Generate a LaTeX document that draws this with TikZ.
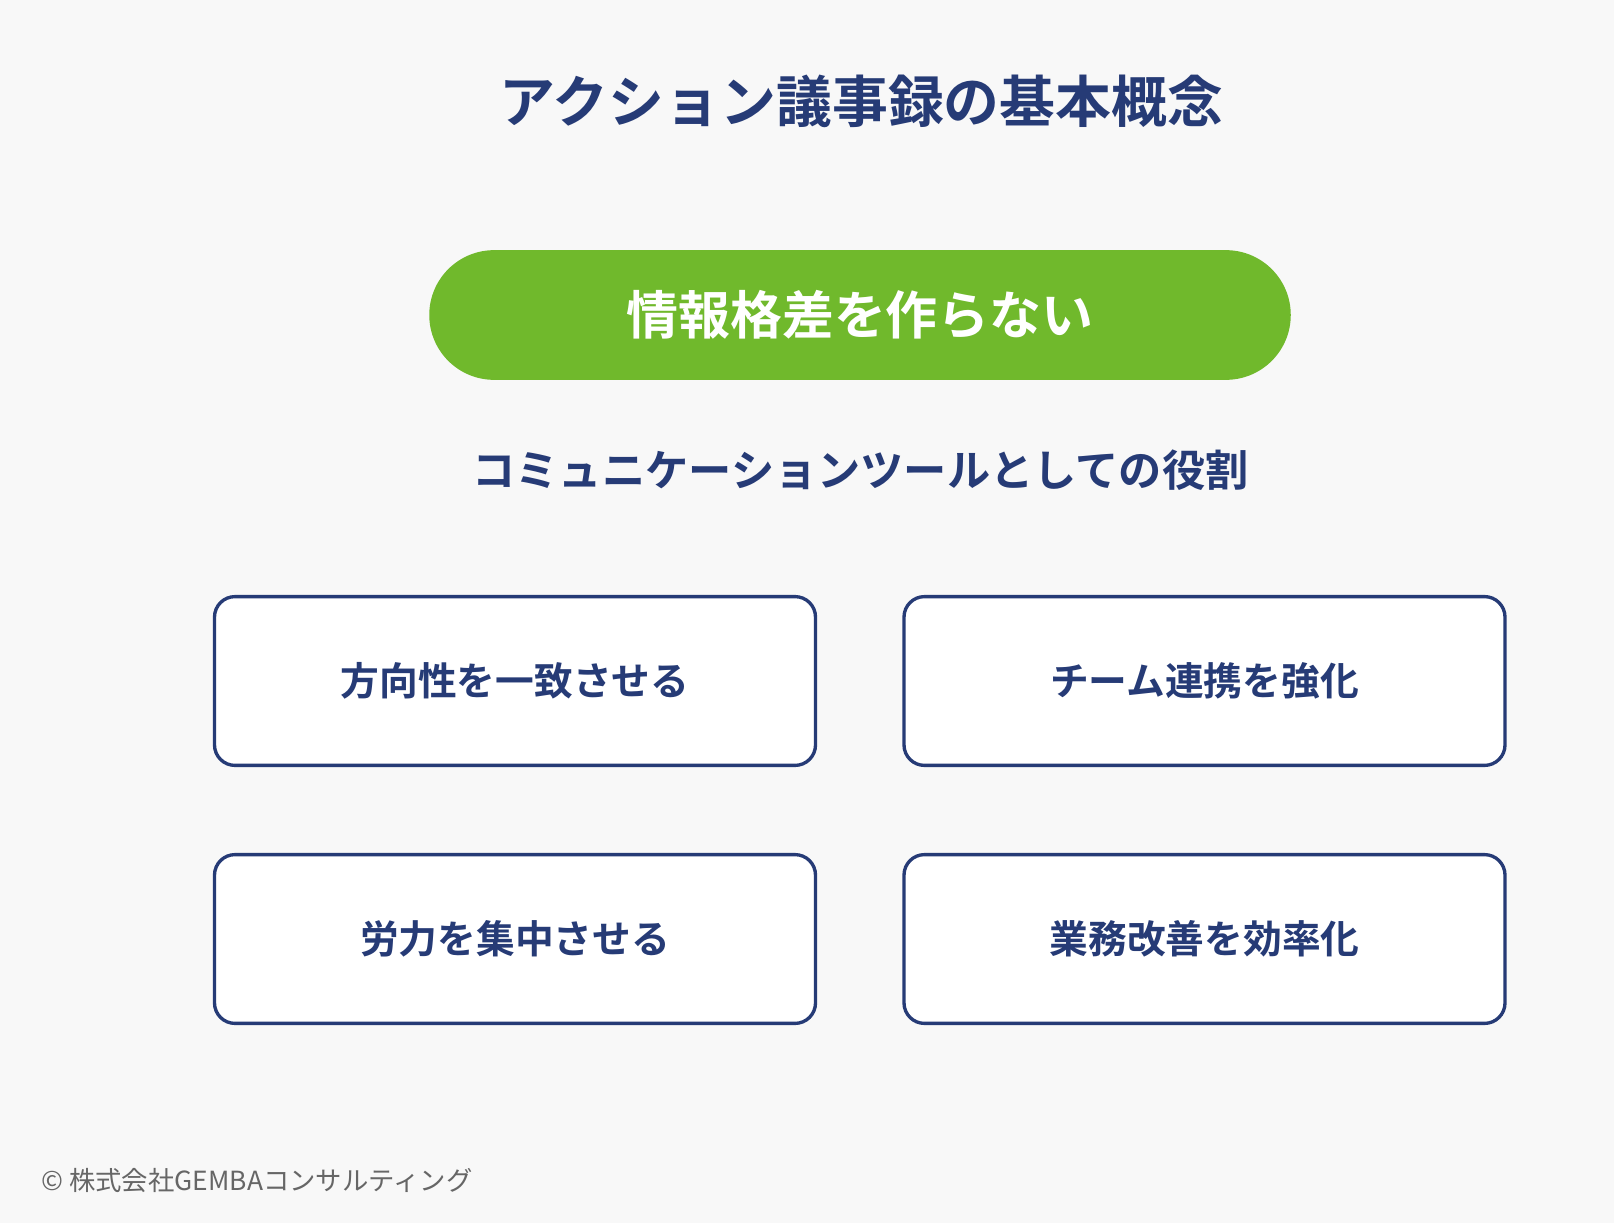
\documentclass[tikz,border=0pt]{standalone}
\usepackage{fontspec}
\setmainfont{Noto Sans CJK JP}
\newfontfamily\jpbold{Noto Sans CJK JP Bold}
\usetikzlibrary{positioning}
\definecolor{navy}{HTML}{263B76}
\definecolor{leaf}{HTML}{70B92C}
\definecolor{paper}{HTML}{F8F8F8}
\definecolor{footgray}{HTML}{666666}
\begin{document}
\begin{tikzpicture}[
    card/.style={draw=navy,line width=1.9pt,fill=white,rounded corners=0.41cm,
      minimum width=12.02cm,minimum height=3.376cm,text=navy,
      font=\jpbold\fontsize{22.05}{25}\selectfont},
    pill/.style={fill=leaf,rounded corners=1.297cm,minimum width=17.23cm,
      minimum height=2.594cm,text=white,font=\jpbold\fontsize{29.55}{33}\selectfont}
  ]
    \fill[paper] (0,0) rectangle (32.28,-24.46);
    \useasboundingbox (0,0) rectangle (32.28,-24.46);
    \node[text=navy,font=\jpbold\fontsize{31.8}{37}\selectfont] (title) at (17.23,-2.02) {アクション議事録の基本概念};
    \node[pill] (gap) at (17.20,-6.30) {情報格差を作らない};
    \node[text=navy,font=\jpbold\fontsize{24.6}{29}\selectfont] (role) at (17.21,-9.41) {コミュニケーションツールとしての役割};
    \node[card] (align) at (10.30,-13.62) {方向性を一致させる};
    \node[card] (team) at (24.09,-13.62) {チーム連携を強化};
    \node[card] (focus) at (10.30,-18.78) {労力を集中させる};
    \node[card] (work) at (24.09,-18.78) {業務改善を効率化};
    \node[anchor=west,inner sep=0pt,text=footgray,font=\fontsize{15}{18}\selectfont] (credit) at (0.82,-23.61) {© 株式会社GEMBAコンサルティング};
\end{tikzpicture}
\end{document}
